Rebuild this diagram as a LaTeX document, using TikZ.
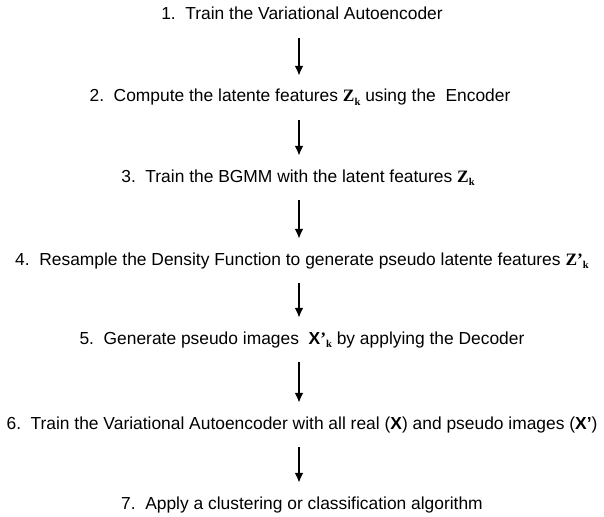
\documentclass[tikz,border=0pt]{standalone}
\usepackage{fontspec}
\setmainfont{Liberation Sans}
\newfontfamily\serifface{Liberation Serif}
\usetikzlibrary{arrows.meta}

\newcommand{\latvar}[2]{{\serifface\bfseries #1\raisebox{-0.45ex}{\fontsize{10.5}{12}\selectfont #2}}}
\newcommand{\numgap}{\hspace{0.55em}}

\tikzstyle{stepline}=[
    anchor=base,
    inner sep=0pt,
    text height=13pt,
    text depth=4pt,
    font=\fontsize{17.4}{20}\selectfont,
  ]
\tikzstyle{dep}=[
    -{Latex[length=10pt,width=9pt]},
    line width=2pt,
    shorten <=14pt,
    shorten >=13pt,
  ]

\begin{document}
\begin{tikzpicture}[x=1pt, y=-1pt]
  \useasboundingbox (0,0) rectangle (604,516);
  \foreach \x/\y/\txt [count=\i] in {
      302/20/{1.\numgap Train the Variational Autoencoder},
      300/102/{2.\numgap Compute the latente features \latvar{Z}{k} using the\ \ Encoder},
      298/182/{3.\numgap Train the BGMM with the latent features \latvar{Z}{k}},
      302/265/{4.\numgap Resample the Density Function to generate pseudo latente features \latvar{Z’}{k}},
      302/344/{5.\numgap Generate pseudo images\ \ \textbf{X}\latvar{’}{k} by applying the Decoder},
      302/429/{6.\numgap Train the Variational Autoencoder with all real (\textbf{X}) and pseudo images (\textbf{X’})},
      302/509/{7.\numgap Apply a clustering or classification algorithm}} {%
    \node[stepline] (s\i) at (\x, \y) {\txt};
  }
  \foreach \a/\b in {1/2, 2/3, 3/4, 4/5, 5/6, 6/7} {%
    \draw[dep] (s\a.south -| 299,0) -- (s\b.north -| 299,0);
  }
\end{tikzpicture}
\end{document}
